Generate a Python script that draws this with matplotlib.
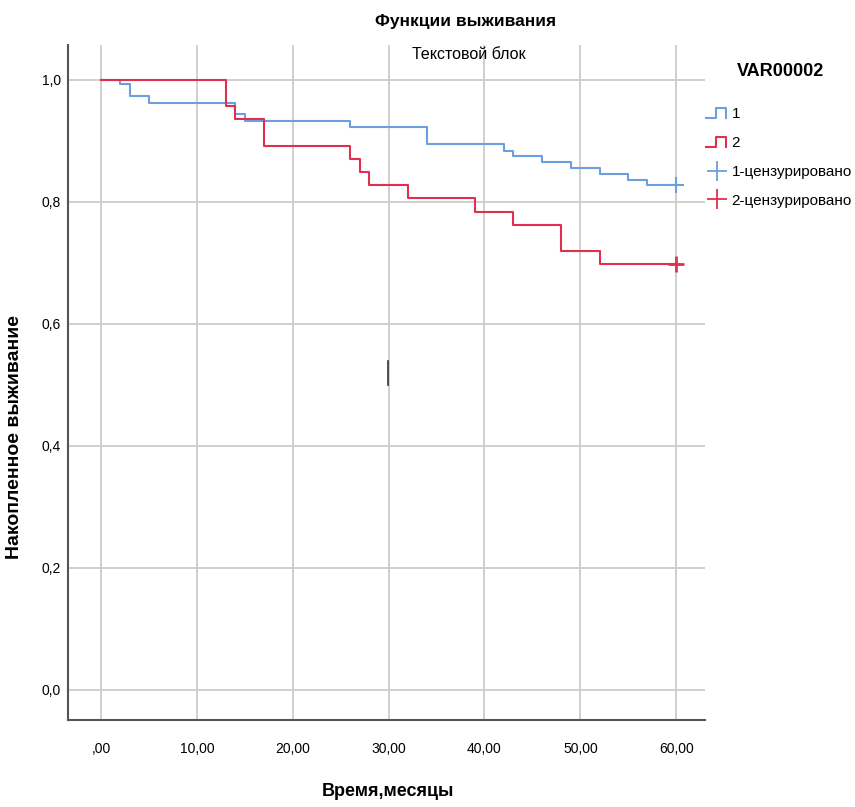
import matplotlib
matplotlib.use("Agg")
import matplotlib.pyplot as plt
from matplotlib.lines import Line2D
from matplotlib.legend_handler import HandlerBase

# survival steps
t1 = [0, 2, 3, 5, 13, 14, 15, 26, 34, 42, 43, 46, 49, 52, 55, 57, 60]
s1 = [1.0, 0.993, 0.973, 0.963, 0.963, 0.945, 0.933, 0.923, 0.895, 0.884, 0.875,
      0.865, 0.856, 0.846, 0.836, 0.827, 0.827]
t2 = [0, 13, 14, 17, 26, 27, 28, 32, 39, 43, 48, 52, 60]
s2 = [1.0, 0.958, 0.9355, 0.892, 0.870, 0.849, 0.827, 0.806, 0.784, 0.762, 0.719,
      0.698, 0.698]
cens_t = [60, 60]
cens_s = [0.827, 0.698]
xticks = [0, 10, 20, 30, 40, 50, 60]
xlabels = [",00", "10,00", "20,00", "30,00", "40,00", "50,00", "60,00"]
yticks = [0.0, 0.2, 0.4, 0.6, 0.8, 1.0]
ylabels = ["0,0", "0,2", "0,4", "0,6", "0,8", "1,0"]
groups = ["1", "2", "1-цензурировано", "2-цензурировано"]

blue = "#6c9fe0"
red = "#e0304f"

plt.rcParams["font.family"] = ["Liberation Sans", "DejaVu Sans"]


class StepHandler(HandlerBase):
    def create_artists(self, legend, orig, xd, yd, w, h, fs, trans):
        lo = -yd + h * 0.05
        hi = -yd + h * 0.95
        x = [-xd, -xd + w * 0.45, -xd + w * 0.45, -xd + w * 0.9, -xd + w * 0.9]
        y = [lo, lo, hi, hi, lo]
        ln = Line2D(x, y, color=orig.get_color(), lw=1.5, transform=trans)
        return [ln]


fig = plt.figure(figsize=(8.55, 8.07), dpi=100)
ax = fig.add_axes([0.0795, 0.108, 0.745, 0.836])

ax.step(t1, s1, where="post", color=blue, lw=1.5)
ax.step(t2, s2, where="post", color=red, lw=1.5)
ax.plot(cens_t[0], cens_s[0], marker="+", ms=11, mew=1.5, color=blue, ls="none")
ax.plot(cens_t[1], cens_s[1], marker="+", ms=11, mew=2.0, color=red, ls="none")
# stray text cursor
ax.plot([29.9, 29.9], [0.50, 0.54], color="#333333", lw=1.2)

ax.set_xlim(-3.45, 63.0)
ax.set_ylim(-0.049, 1.057)
ax.set_xticks(xticks)
ax.set_xticklabels(xlabels)
ax.set_yticks(yticks)
ax.set_yticklabels(ylabels)
ax.tick_params(length=0, labelsize=10)
ax.tick_params(axis="x", pad=16)
ax.tick_params(axis="y", pad=5)
ax.grid(True, color="#cccccc", lw=1.3)
ax.set_axisbelow(True)
for sp in ["top", "right"]:
    ax.spines[sp].set_visible(False)
for sp in ["left", "bottom"]:
    ax.spines[sp].set_color("#555555")
    ax.spines[sp].set_linewidth(1.5)

ax.set_xlabel("Время,месяцы", fontsize=13, fontweight="bold")
ax.xaxis.set_label_coords(0.502, -0.093)
ax.set_ylabel("Накопленное выживание", fontsize=14, fontweight="bold")
ax.yaxis.set_label_coords(-0.070, 0.419)

fig.text(0.545, 0.973, "Функции выживания", ha="center", va="center",
         fontsize=12.5, fontweight="bold")
fig.text(0.548, 0.932, "Текстовой блок", ha="center", va="center", fontsize=11.5)
fig.text(0.913, 0.911, "VAR00002", ha="center", va="center",
         fontsize=13, fontweight="bold")

h1 = Line2D([], [], color=blue)
h2 = Line2D([], [], color=red)
h3 = Line2D([], [], color=blue, marker="+", ms=15, mew=1.3, ls="none")
h4 = Line2D([], [], color=red, marker="+", ms=15, mew=1.3, ls="none")
leg = fig.legend([h1, h2, h3, h4], groups, loc="upper left",
                 bbox_to_anchor=(0.826, 0.867), frameon=False, fontsize=11,
                 handlelength=1.45, handletextpad=0.2, borderpad=0,
                 labelspacing=0.97, borderaxespad=0,
                 handler_map={h1: StepHandler(), h2: StepHandler()})

fig.savefig("out.png", dpi=100)
